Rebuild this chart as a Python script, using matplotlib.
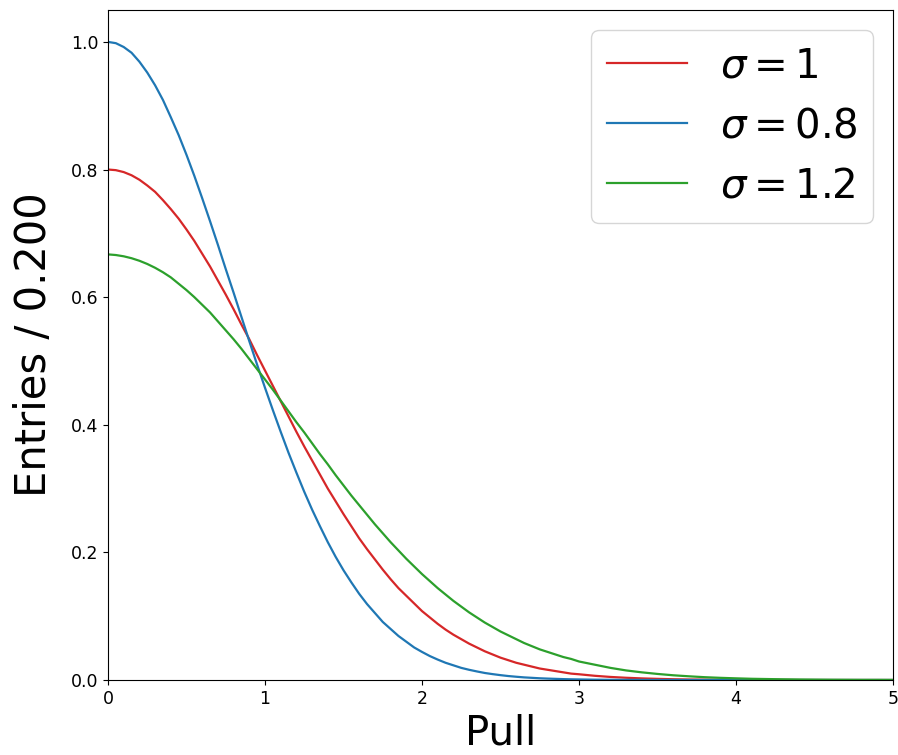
import matplotlib
matplotlib.use("Agg")
import matplotlib.pyplot as plt

# Pull values (x) and curve heights
pull = [round(0.05 * i, 2) for i in range(61)] + [round(3 + 0.1 * i, 1) for i in range(1, 21)]

sigma_1 = [0.800, 0.799, 0.796, 0.791, 0.784, 0.775, 0.765, 0.752, 0.738, 0.723,
           0.706, 0.688, 0.668, 0.648, 0.626, 0.604, 0.581, 0.557, 0.534, 0.509,
           0.485, 0.461, 0.437, 0.413, 0.389, 0.366, 0.344, 0.322, 0.300, 0.280,
           0.260, 0.241, 0.222, 0.205, 0.189, 0.173, 0.158, 0.144, 0.132, 0.120,
           0.108, 0.098, 0.088, 0.079, 0.071, 0.064, 0.057, 0.051, 0.045, 0.040,
           0.035, 0.031, 0.027, 0.024, 0.021, 0.018, 0.016, 0.014, 0.012, 0.010,
           0.009,
           0.0066, 0.0048, 0.0035, 0.0025, 0.0018, 0.0012, 0.0008, 0.0006, 0.0004, 0.0003,
           0.0002, 0.0001, 0.0001, 0.0, 0.0, 0.0, 0.0, 0.0, 0.0, 0.0]

sigma_08 = [1.000, 0.998, 0.992, 0.983, 0.969, 0.952, 0.932, 0.909, 0.882, 0.854,
            0.823, 0.790, 0.755, 0.719, 0.682, 0.644, 0.607, 0.569, 0.531, 0.494,
            0.458, 0.423, 0.389, 0.356, 0.325, 0.295, 0.267, 0.241, 0.216, 0.193,
            0.172, 0.153, 0.135, 0.119, 0.105, 0.091, 0.080, 0.069, 0.060, 0.051,
            0.044, 0.0375, 0.032, 0.027, 0.023, 0.019, 0.016, 0.0134, 0.011, 0.0092,
            0.0076, 0.0062, 0.0051, 0.0041, 0.0034, 0.0027, 0.0022, 0.0018, 0.0014, 0.0011,
            0.0009,
            0.0005, 0.0003, 0.0002, 0.0001, 0.0, 0.0, 0.0, 0.0, 0.0, 0.0,
            0.0, 0.0, 0.0, 0.0, 0.0, 0.0, 0.0, 0.0, 0.0, 0.0]

sigma_12 = [0.667, 0.666, 0.664, 0.661, 0.657, 0.652, 0.646, 0.639, 0.631, 0.621,
            0.611, 0.600, 0.588, 0.576, 0.562, 0.548, 0.534, 0.519, 0.503, 0.487,
            0.471, 0.455, 0.438, 0.421, 0.404, 0.388, 0.371, 0.354, 0.338, 0.321,
            0.305, 0.289, 0.274, 0.259, 0.244, 0.230, 0.216, 0.203, 0.190, 0.178,
            0.166, 0.155, 0.144, 0.134, 0.124, 0.115, 0.106, 0.098, 0.090, 0.083,
            0.076, 0.070, 0.064, 0.058, 0.053, 0.048, 0.044, 0.040, 0.036, 0.033,
            0.029,
            0.024, 0.019, 0.015, 0.012, 0.0095, 0.0074, 0.0058, 0.0044, 0.0034, 0.0026,
            0.0019, 0.0015, 0.0011, 0.0008, 0.0006, 0.0004, 0.0003, 0.0002, 0.0002, 0.0001]

labels = [r'$\sigma=1$', r'$\sigma=0.8$', r'$\sigma=1.2$']
colors = ['tab:red', 'tab:blue', 'tab:green']
yticks = [0.0, 0.2, 0.4, 0.6, 0.8, 1.0]

fig = plt.figure(figsize=(8.98, 7.55), dpi=100)
ax = fig.add_axes([108 / 898, 1 - 680 / 755, (893 - 108) / 898, (680 - 10) / 755])

for ys, lab, c in zip([sigma_1, sigma_08, sigma_12], labels, colors):
    ax.plot(pull, ys, color=c, lw=1.6, label=lab)

ax.set_xlim(0, 5)
ax.set_ylim(0, 1.05)
ax.set_yticks(yticks)
ax.tick_params(labelsize=12.5)
ax.set_xlabel('Pull', fontsize=29, labelpad=4)
ax.set_ylabel('Entries / 0.200', fontsize=30, labelpad=11)
ax.legend(fontsize=29, loc='upper right', handlelength=2.0, borderaxespad=0.5)

fig.savefig('out.png', dpi=100)
